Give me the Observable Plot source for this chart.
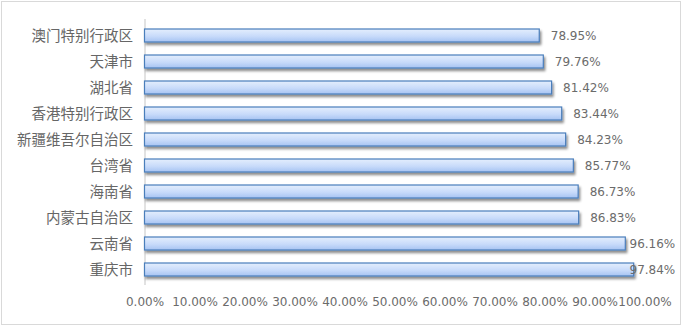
<!DOCTYPE html>
<html>
<head>
<meta charset="utf-8">
<script src="https://cdn.jsdelivr.net/npm/d3@7"></script>
<script src="https://cdn.jsdelivr.net/npm/@observablehq/plot@0.6"></script>
<style>
  html, body { margin: 0; padding: 0; background: #fff; }
  #chart { position: relative; width: 682px; height: 326px; }
  #chart svg { display: block; }
</style>
</head>
<body>
<div id="chart"></div>
<script>
// Regions, top to bottom, and their rates (percent)
const regions = ["澳门特别行政区", "天津市", "湖北省", "香港特别行政区", "新疆维吾尔自治区",
                 "台湾省", "海南省", "内蒙古自治区", "云南省", "重庆市"];
const rates = [78.95, 79.76, 81.42, 83.44, 84.23, 85.77, 86.73, 86.83, 96.16, 97.84];
const xTicks = [0, 10, 20, 30, 40, 50, 60, 70, 80, 90, 100];

const data = regions.map((region, i) => ({region, rate: rates[i]}));
const pct = v => v.toFixed(2) + "%";

const W = 682, H = 326;
const labelFont = "'DejaVu Sans', Verdana, sans-serif";
const cjkFont = "'Noto Sans CJK SC', 'Noto Sans', sans-serif";

const plot = Plot.plot({
  width: W,
  height: H,
  marginLeft: 144.5,
  marginRight: 37.5,
  marginTop: 19,
  marginBottom: 41,
  style: {background: "#fff", color: "#666", fontFamily: labelFont, fontSize: "12px"},
  x: {domain: [0, 100], ticks: xTicks, tickFormat: pct, label: null},
  y: {domain: regions, paddingInner: 0.5, paddingOuter: 0.25, label: null},
  marks: [
    // outer chart border
    () => {
      const r = document.createElementNS("http://www.w3.org/2000/svg", "rect");
      r.setAttribute("x", 1.5); r.setAttribute("y", 1.5);
      r.setAttribute("width", W - 3); r.setAttribute("height", H - 3);
      r.setAttribute("fill", "none"); r.setAttribute("stroke", "#d9d9d9");
      return r;
    },
    Plot.axisX({ticks: xTicks, tickFormat: pct, tickSize: 0, tickPadding: 12,
                fill: "#6b6b6b", fontSize: 12, fontFamily: labelFont}),
    Plot.axisY({tickSize: 0, tickPadding: 12, fill: "#666", fontSize: 14.5,
                fontFamily: cjkFont}),
    Plot.ruleX([0], {stroke: "#d9d9d9", strokeWidth: 1.5}),
    Plot.barX(data, {x: "rate", y: "region", fill: "url(#barGrad)",
                     stroke: "#4a7ebb", strokeWidth: 1.2, className: "bars"}),
    Plot.text(data, {x: d => Math.min(d.rate, 94.7), y: "region", text: d => pct(d.rate),
                     dx: 11, textAnchor: "start", fill: "#6b6b6b", fontSize: 12,
                     fontFamily: labelFont})
  ]
});

// gradient fill and soft drop shadow for the bars
const svg = d3.select(plot);
const defs = svg.insert("defs", ":first-child");
const grad = defs.append("linearGradient").attr("id", "barGrad")
  .attr("x1", 0).attr("y1", 0).attr("x2", 0).attr("y2", 1);
grad.append("stop").attr("offset", "0%").attr("stop-color", "#e4eefd");
grad.append("stop").attr("offset", "55%").attr("stop-color", "#c8dbfa");
grad.append("stop").attr("offset", "100%").attr("stop-color", "#a6c3f2");
const f = defs.append("filter").attr("id", "barShadow")
  .attr("x", "-5%").attr("y", "-50%").attr("width", "110%").attr("height", "220%");
f.append("feDropShadow").attr("dx", 1.5).attr("dy", 2.5).attr("stdDeviation", 1.3)
  .attr("flood-color", "#000").attr("flood-opacity", 0.45);
svg.select("g.bars").attr("filter", "url(#barShadow)");

document.getElementById("chart").appendChild(plot);
</script>
</body>
</html>
